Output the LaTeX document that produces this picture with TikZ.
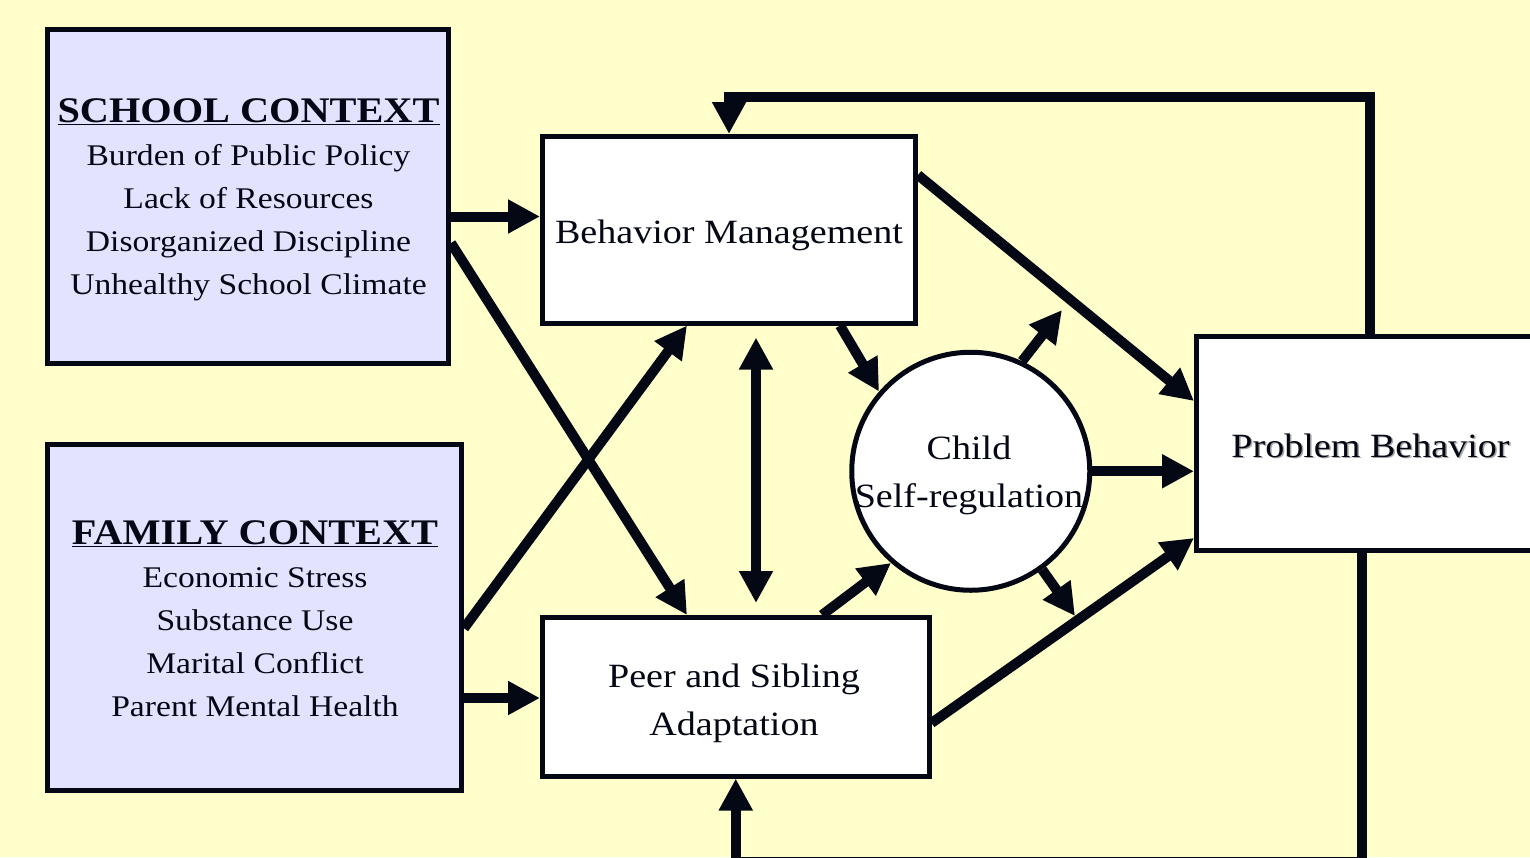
\documentclass[tikz,border=0pt]{standalone}
\usepackage{fontspec}
\setmainfont{Liberation Serif}[FakeStretch=1.12]
\usetikzlibrary{arrows.meta,calc}
\definecolor{ink}{RGB}{3,8,20}
\definecolor{bgyellow}{RGB}{255,255,204}
\definecolor{lavender}{RGB}{227,227,255}
\newcommand\ctxtitle[1]{{\fontsize{36}{43}\selectfont\bfseries\underline{#1}}}
\begin{document}
\begin{tikzpicture}[x=1pt,y=-1pt,
  ctx/.style={draw=ink, fill=lavender, line width=5pt, rectangle, inner sep=0pt},
  wbox/.style={draw=ink, fill=white, line width=5pt, rectangle, inner sep=0pt},
  arr/.style={draw=ink, line width=10pt, -{Triangle[length=32pt,width=32pt]}},
  dbl/.style={draw=ink, line width=10pt, {Triangle[length=32pt,width=32pt]}-{Triangle[length=32pt,width=32pt]}},
  ctxtxt/.style={text=ink, align=center, font=\fontsize{30}{43}\selectfont, inner sep=0pt},
  mtxt/.style={text=ink, align=center, font=\fontsize{34}{48}\selectfont, inner sep=0pt}]
\useasboundingbox (0,0) rectangle (1530,857);
\clip (0,0) rectangle (1530,857);
\fill[bgyellow] (0,0) rectangle (1530,857);

% boxes
\node[ctx, minimum width=401pt, minimum height=334pt] (school) at (248,196.5) {};
\node[ctx, minimum width=414pt, minimum height=346.5pt] (family) at (254.5,617.25) {};
\node[wbox, minimum width=373pt, minimum height=186.5pt] (bm) at (729,229.75) {};
\node[wbox, minimum width=386.5pt, minimum height=158.5pt] (peer) at (735.75,696.75) {};
\node[wbox, circle, minimum size=238pt] (self) at (970.75,471.25) {};
\node[wbox, minimum width=346pt, minimum height=213.5pt] (pb) at (1369.5,443.25) {};

% texts
\node[ctxtxt] (schooltxt) at (248.5,200) {\ctxtitle{SCHOOL CONTEXT}\\Burden of Public Policy\\Lack of Resources\\Disorganized Discipline\\Unhealthy School Climate};
\node[ctxtxt] (familytxt) at (255,619) {\ctxtitle{FAMILY CONTEXT}\\Economic Stress\\Substance Use\\Marital Conflict\\Parent Mental Health};
\node[mtxt] (bmtxt) at (729,235) {Behavior Management};
\node[mtxt] (peertxt) at (734,703) {Peer and Sibling\\Adaptation};
\node[mtxt] (selftxt) at (969,475) {Child\\Self-regulation};
\node[mtxt, text=black!35] (pbshadow) at (1372,447) {Problem Behavior};
\node[mtxt] (pbtxt) at (1370.5,445.4) {Problem Behavior};

% free ends
\coordinate (topy) at (0,96.5);
\coordinate (boty) at (0,862);
\coordinate (selfNE) at (1062,310);
\coordinate (selfSE) at (1075,616);

% connectors
\draw[arr] ([yshift=-20pt]school.east) -- ([yshift=-20pt]school.east -| bm.west);
\draw[arr] ([yshift=-46.5pt]school.east) -- ([xshift=-48.75pt]peer.north);
\draw[arr] ([yshift=-11pt]family.east) -- ([xshift=-42pt]bm.south);
\draw[arr] ([yshift=-80.75pt]family.east) -- ([yshift=-80.75pt]family.east -| peer.west);
\draw[dbl, shorten <=12pt, shorten >=12pt] ([xshift=27pt]bm.south) -- ([xshift=27pt]bm.south |- peer.north);
\draw[arr] ([xshift=111pt]bm.south) -- (self.139);
\draw[arr] (self.65) -- (selfNE);
\draw[arr] ([yshift=54.75pt]bm.east) -- ([yshift=42.25pt]pb.west);
\draw[arr] (self.east) -- (self.east -| pb.west);
\draw[arr] ([xshift=86.25pt]peer.north) -- (self.229);
\draw[arr] (self.-54) -- (selfSE);
\draw[arr] ([yshift=-26.25pt]peer.east) -- ([yshift=-94.75pt]pb.west);
\draw[arr] (pb.north) -- (pb.north |- topy) -| (bm.north);
\draw[arr] ([xshift=-7.5pt]pb.south) -- ([xshift=-7.5pt]pb.south |- boty) -| (peer.south);
\end{tikzpicture}
\end{document}
